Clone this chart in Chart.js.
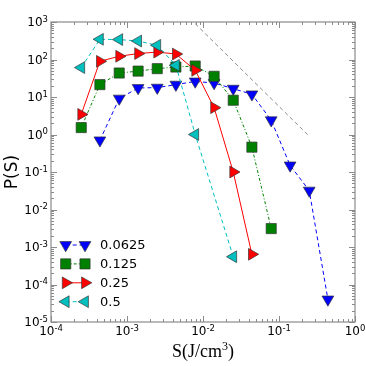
<!DOCTYPE html>
<html>
<head>
<meta charset="utf-8">
<script src="https://cdn.jsdelivr.net/npm/chart.js@4/dist/chart.umd.min.js"></script>
<style>
html,body{margin:0;padding:0;background:#fff;}
#wrap{width:366px;height:366px;}
</style>
</head>
<body>
<div id="wrap"><canvas id="c" width="366" height="366"></canvas></div>
<script>
// ---- data ----
const S_0625 = [4.4e-4, 7.9e-4, 1.4e-3, 2.5e-3, 4.4e-3, 7.9e-3, 1.4e-2, 2.5e-2, 4.4e-2, 7.9e-2, 1.4e-1, 2.5e-1, 4.4e-1];
const P_0625 = [0.7, 9.1, 17.4, 17.8, 21.4, 26, 23.6, 16.7, 11.8, 2.4, 0.15, 0.032, 4e-5];
const S_125 = [2.5e-4, 4.4e-4, 7.9e-4, 1.4e-3, 2.5e-3, 4.4e-3, 7.9e-3, 1.4e-2, 2.5e-2, 4.4e-2, 7.9e-2];
const P_125 = [1.53, 21.4, 43.6, 49, 57, 63, 67, 35.6, 8.2, 0.46, 3.1e-3];
const S_25 = [2.5e-4, 4.4e-4, 7.9e-4, 1.4e-3, 2.5e-3, 4.4e-3, 7.9e-3, 1.4e-2, 2.5e-2, 4.4e-2];
const P_25 = [3.44, 89.5, 122, 144, 158, 140, 51.5, 5.2, 0.1, 6.4e-4];
const S_5 = [2.5e-4, 4.4e-4, 7.9e-4, 1.4e-3, 2.5e-3, 4.4e-3, 7.9e-3, 2.5e-2];
const P_5 = [60.8, 346, 340, 311, 239, 70, 1.0, 5.5e-4];
const S_REF = [7.9e-3, 2.5e-1];
const P_REF = [900, 0.9];
const LABELS = ['0.0625', '0.125', '0.25', '0.5'];
const X_EXPONENTS = [-4, -3, -2, -1, 0];
const Y_EXPONENTS = [-5, -4, -3, -2, -1, 0, 1, 2, 3];
const X_TITLE = 'S(J/cm';
const X_TITLE_SUP = '3';
const Y_TITLE = 'P(S)';

const pts = (xs, ys) => xs.map((x, i) => ({x: x, y: ys[i]}));
const EDGE = 'rgba(50,50,50,0.85)';

function series(label, xs, ys, color, style, rot, radius, dash, order) {
  return {
    label: label, data: pts(xs, ys), showLine: true,
    borderColor: color, borderWidth: 1, borderDash: dash,
    pointStyle: style, pointRotation: rot, pointRadius: radius,
    pointBackgroundColor: color, pointBorderColor: EDGE, pointBorderWidth: 0.8,
    pointHoverRadius: radius, order: order, clip: false
  };
}

const datasets = [
  series(LABELS[0], S_0625, P_0625, '#0000ff', 'triangle', 180, 6.8, [4, 3], 4),
  series(LABELS[1], S_125, P_125, '#008000', 'rect', 0, 7.2, [3, 2, 1, 2], 3),
  series(LABELS[2], S_25, P_25, '#ff0000', 'triangle', 90, 6.8, [], 2),
  series(LABELS[3], S_5, P_5, '#00bfbf', 'triangle', -90, 6.8, [4, 3], 1),
  {label: 'ref', data: pts(S_REF, P_REF), showLine: true, borderColor: '#8c8c8c',
   borderWidth: 1, borderDash: [4, 3], pointRadius: 0, order: 5}
];

function drawPow(ctx, e, x, y, align) {
  const base = '10', ex = String(e);
  ctx.font = '12px "DejaVu Sans"';
  const wb = ctx.measureText(base).width;
  ctx.font = '8.5px "DejaVu Sans"';
  const we = ctx.measureText(ex).width;
  const tot = wb + we;
  let x0 = align === 'center' ? x - tot / 2 : x - tot;
  ctx.textAlign = 'left';
  ctx.textBaseline = 'alphabetic';
  ctx.fillStyle = '#000';
  ctx.font = '12px "DejaVu Sans"';
  ctx.fillText(base, x0, y);
  ctx.font = '8.5px "DejaVu Sans"';
  ctx.fillText(ex, x0 + wb, y - 4.5);
}

const decor = {
  id: 'decor',
  afterDraw(chart) {
    const ctx = chart.ctx, a = chart.chartArea;
    const xs = chart.scales.x, ys = chart.scales.y;
    ctx.save();
    // frame
    ctx.strokeStyle = '#8a8a8a';
    ctx.lineWidth = 1.2;
    ctx.setLineDash([]);
    ctx.strokeRect(a.left, a.top, a.right - a.left, a.bottom - a.top);
    ctx.lineWidth = 1;
    for (let e = X_EXPONENTS[0]; e <= X_EXPONENTS[X_EXPONENTS.length - 1]; e++) {
      for (let m = 1; m <= 9; m++) {
        const v = m * Math.pow(10, e);
        if (v > xs.max * 1.0001) break;
        const px = Math.round(xs.getPixelForValue(v)) + 0.5;
        const L = m === 1 ? 6 : 3;
        ctx.beginPath();
        ctx.moveTo(px, a.bottom); ctx.lineTo(px, a.bottom - L);
        ctx.moveTo(px, a.top); ctx.lineTo(px, a.top + L);
        ctx.stroke();
      }
    }
    for (let e = Y_EXPONENTS[0]; e <= Y_EXPONENTS[Y_EXPONENTS.length - 1]; e++) {
      for (let m = 1; m <= 9; m++) {
        const v = m * Math.pow(10, e);
        if (v > ys.max * 1.0001) break;
        const py = Math.round(ys.getPixelForValue(v)) + 0.5;
        const L = m === 1 ? 6 : 3;
        ctx.beginPath();
        ctx.moveTo(a.left, py); ctx.lineTo(a.left + L, py);
        ctx.moveTo(a.right, py); ctx.lineTo(a.right - L, py);
        ctx.stroke();
      }
    }
    X_EXPONENTS.forEach(e => drawPow(ctx, e, xs.getPixelForValue(Math.pow(10, e)), a.bottom + 13, 'center'));
    Y_EXPONENTS.forEach(e => drawPow(ctx, e, a.left - 3, ys.getPixelForValue(Math.pow(10, e)) + 4.2, 'right'));
    // axis titles
    ctx.fillStyle = '#000';
    ctx.font = '18px "Liberation Serif"';
    const wt = ctx.measureText(X_TITLE).width;
    ctx.font = '12px "Liberation Serif"';
    const ws = ctx.measureText(X_TITLE_SUP).width;
    ctx.font = '18px "Liberation Serif"';
    const wp = ctx.measureText(')').width;
    const cx = (a.left + a.right) / 2;
    let x0 = cx - (wt + ws + wp) / 2;
    const by = a.bottom + 35;
    ctx.textAlign = 'left';
    ctx.fillText(X_TITLE, x0, by);
    ctx.font = '12px "Liberation Serif"';
    ctx.fillText(X_TITLE_SUP, x0 + wt, by - 7);
    ctx.font = '18px "Liberation Serif"';
    ctx.fillText(')', x0 + wt + ws, by);

    ctx.save();
    ctx.translate(13, (a.top + a.bottom) / 2);
    ctx.rotate(-Math.PI / 2);
    ctx.font = '17px "DejaVu Sans"';
    ctx.textAlign = 'center';
    ctx.textBaseline = 'middle';
    ctx.fillText(Y_TITLE, 0, 0);
    ctx.restore();

    // legend
    const lx1 = a.left + 14.7, lx2 = a.left + 34, tx = a.left + 49;
    const ly0 = 245, dy = 18.9;
    for (let i = 0; i < 4; i++) {
      const ds = chart.data.datasets[i];
      const y = ly0 + i * dy;
      ctx.strokeStyle = ds.borderColor;
      ctx.lineWidth = 1;
      ctx.setLineDash(ds.borderDash || []);
      ctx.beginPath(); ctx.moveTo(lx1, y); ctx.lineTo(lx2, y); ctx.stroke();
      ctx.setLineDash([]);
      [lx1, lx2].forEach(x => {
        ctx.fillStyle = ds.pointBackgroundColor;
        ctx.strokeStyle = ds.pointBorderColor;
        ctx.lineWidth = ds.pointBorderWidth;
        Chart.helpers.drawPoint(ctx, {pointStyle: ds.pointStyle, rotation: ds.pointRotation,
          radius: ds.pointRadius, borderWidth: ds.pointBorderWidth}, x, y);
      });
      ctx.fillStyle = '#000';
      ctx.font = '13px "DejaVu Sans"';
      ctx.textAlign = 'left';
      ctx.textBaseline = 'middle';
      ctx.fillText(ds.label, tx, y + 0.5);
    }
    ctx.restore();
  }
};

new Chart(document.getElementById('c'), {
  type: 'scatter',
  data: {datasets: datasets},
  options: {
    responsive: false, animation: false, devicePixelRatio: 1,
    layout: {padding: {left: 51, right: 11, top: 22, bottom: 44}},
    plugins: {legend: {display: false}, tooltip: {enabled: false}},
    scales: {
      x: {type: 'logarithmic', min: 1e-4, max: 1, display: false},
      y: {type: 'logarithmic', min: 1e-5, max: 1e3, display: false}
    }
  },
  plugins: [decor]
});
</script>
</body>
</html>
